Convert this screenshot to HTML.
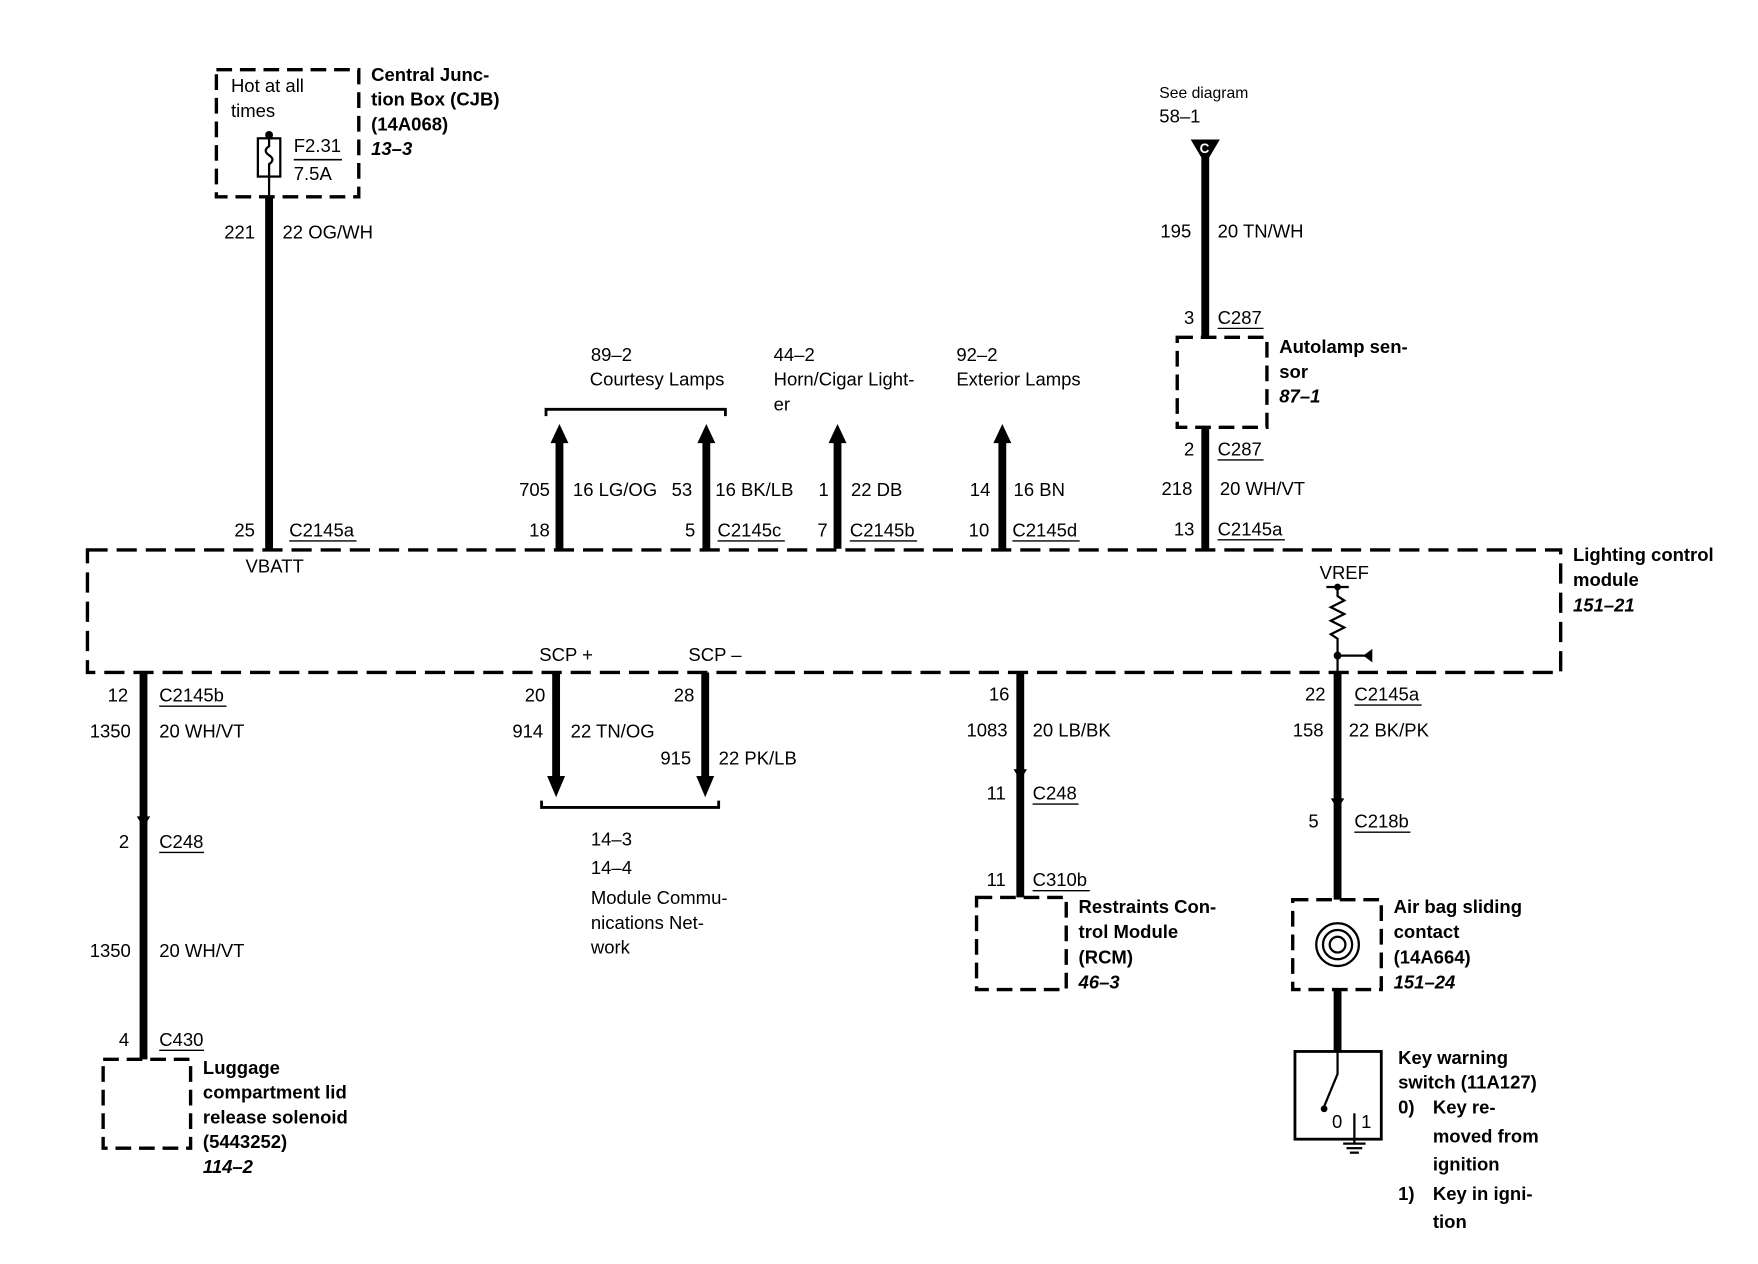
<!DOCTYPE html>
<html><head><meta charset="utf-8"><style>
html,body{margin:0;padding:0;background:#fff;}
svg{display:block}
text{font-family:"Liberation Sans",Arial,sans-serif;font-size:16.5px;fill:#000}
.b{font-weight:bold}
.i{font-weight:bold;font-style:italic}
.s{font-size:14px}
</style></head><body>
<svg width="1758" height="1264" viewBox="0 0 1568 1124" preserveAspectRatio="none" xmlns="http://www.w3.org/2000/svg">
<g fill="none" stroke="#000">
<rect x="193" y="62" width="127" height="113" stroke-width="3" stroke-dasharray="14,7"/>
<rect x="78" y="489" width="1314" height="109" stroke-width="3" stroke-dasharray="18,8"/>
<rect x="1050" y="300" width="80" height="80" stroke-width="3" stroke-dasharray="14,7"/>
<rect x="92" y="942" width="78" height="79" stroke-width="3" stroke-dasharray="14,7"/>
<rect x="871" y="798" width="80" height="82" stroke-width="3" stroke-dasharray="14,7"/>
<rect x="1153" y="800" width="79" height="80" stroke-width="3" stroke-dasharray="14,7"/>
<rect x="1155" y="935" width="77" height="78" stroke-width="2.5"/>
<rect x="230" y="123" width="20" height="34" stroke-width="2"/>
<path d="M240 120 V130 q-6 4 0 8 q6 4 0 8 V175" stroke-width="2"/>
<line x1="262" y1="142" x2="305" y2="142" stroke-width="1.5"/>
<g stroke-width="7">
<line x1="240" y1="175" x2="240" y2="488"/>
<line x1="499" y1="392" x2="499" y2="488"/>
<line x1="630" y1="392" x2="630" y2="488"/>
<line x1="747" y1="392" x2="747" y2="488"/>
<line x1="894" y1="392" x2="894" y2="488"/>
<line x1="1075" y1="140" x2="1075" y2="300"/>
<line x1="1075" y1="380" x2="1075" y2="488"/>
<line x1="128" y1="598" x2="128" y2="942"/>
<line x1="496" y1="598" x2="496" y2="692"/>
<line x1="629" y1="598" x2="629" y2="692"/>
<line x1="910" y1="598" x2="910" y2="798"/>
<line x1="1193" y1="598" x2="1193" y2="800"/>
<line x1="1193" y1="880" x2="1193" y2="935"/>
</g>
<path d="M487 370 V364 H647 V370" stroke-width="2.5"/>
<path d="M483 712 V718 H641 V712" stroke-width="2.5"/>
<path d="M1193 522 V530 l6 4 l-12 6 l12 6 l-12 6 l12 6 l-12 6 l6 4 V598" stroke-width="2"/>
<line x1="1183" y1="522" x2="1203" y2="522" stroke-width="2"/>
<line x1="1193" y1="583" x2="1218" y2="583" stroke-width="2"/>
<circle cx="1193" cy="840" r="19" stroke-width="2"/>
<circle cx="1193" cy="840" r="13" stroke-width="2"/>
<circle cx="1193" cy="840" r="7" stroke-width="2"/>
<path d="M1193 935 V955 L1181 984" stroke-width="2"/>
<line x1="1208" y1="990" x2="1208" y2="1017" stroke-width="2"/>
<line x1="1198" y1="1017" x2="1218" y2="1017" stroke-width="2"/>
<line x1="1201" y1="1021" x2="1215" y2="1021" stroke-width="2"/>
<line x1="1204" y1="1025" x2="1212" y2="1025" stroke-width="2"/>
<g stroke-width="1.2">
<line x1="258" y1="481" x2="318" y2="481"/>
<line x1="640" y1="481" x2="700" y2="481"/>
<line x1="758" y1="481" x2="818" y2="481"/>
<line x1="903" y1="481" x2="963" y2="481"/>
<line x1="1086" y1="292" x2="1127" y2="292"/>
<line x1="1086" y1="409" x2="1127" y2="409"/>
<line x1="1086" y1="480" x2="1146" y2="480"/>
<line x1="142" y1="628" x2="202" y2="628"/>
<line x1="142" y1="758" x2="182" y2="758"/>
<line x1="142" y1="934" x2="182" y2="934"/>
<line x1="921" y1="715" x2="962" y2="715"/>
<line x1="921" y1="792" x2="972" y2="792"/>
<line x1="1208" y1="627" x2="1268" y2="627"/>
<line x1="1208" y1="740" x2="1258" y2="740"/>
</g>
</g>
<g fill="#000">
<polygon points="499,377 491,394 507,394"/>
<polygon points="630,377 622,394 638,394"/>
<polygon points="747,377 739,394 755,394"/>
<polygon points="894,377 886,394 902,394"/>
<polygon points="496,709 488,690 504,690"/>
<polygon points="629,709 621,690 637,690"/>
<polygon points="1062,124 1088,124 1075,146"/>
<circle cx="240" cy="120" r="3.5"/>
<circle cx="1193" cy="522" r="3"/>
<circle cx="1193" cy="583" r="3.5"/>
<polygon points="1224,577 1224,589 1216,583"/>
<circle cx="1181" cy="986" r="3"/>
<polygon points="122,726 134,726 128,736"/>
<polygon points="904,684 916,684 910,694"/>
<polygon points="1187,710 1199,710 1193,720"/>
</g>
<text x="1070" y="136" style="fill:#fff;font-size:12px" class="b">C</text>

<text x="206" y="82">Hot at all</text><text x="206" y="104">times</text>
<text x="262" y="135">F2.31</text><text x="262" y="160">7.5A</text>
<text class="b" x="331" y="72">Central Junc-</text><text class="b" x="331" y="94">tion Box (CJB)</text>
<text class="b" x="331" y="116">(14A068)</text><text class="i" x="331" y="138">13–3</text>
<text x="200" y="212">221</text><text x="252" y="212">22 OG/WH</text>
<text x="209" y="477">25</text><text x="258" y="477">C2145a</text><text x="219" y="509">VBATT</text>

<text x="527" y="321">89–2</text><text x="526" y="343">Courtesy Lamps</text>
<text x="463" y="441">705</text><text x="511" y="441">16 LG/OG</text>
<text x="599" y="441">53</text><text x="638" y="441">16 BK/LB</text>
<text x="472" y="477">18</text><text x="611" y="477">5</text><text x="640" y="477">C2145c</text>
<text x="690" y="321">44–2</text><text x="690" y="343">Horn/Cigar Light-</text><text x="690" y="365">er</text>
<text x="730" y="441">1</text><text x="759" y="441">22 DB</text>
<text x="729" y="477">7</text><text x="758" y="477">C2145b</text>
<text x="853" y="321">92–2</text><text x="853" y="343">Exterior Lamps</text>
<text x="865" y="441">14</text><text x="904" y="441">16 BN</text>
<text x="864" y="477">10</text><text x="903" y="477">C2145d</text>

<text class="s" x="1034" y="87">See diagram</text><text x="1034" y="109">58–1</text>
<text x="1035" y="211">195</text><text x="1086" y="211">20 TN/WH</text>
<text x="1056" y="288">3</text><text x="1086" y="288">C287</text>
<text class="b" x="1141" y="314">Autolamp sen-</text><text class="b" x="1141" y="336">sor</text><text class="i" x="1141" y="358">87–1</text>
<text x="1056" y="405">2</text><text x="1086" y="405">C287</text>
<text x="1036" y="440">218</text><text x="1088" y="440">20 WH/VT</text>
<text x="1047" y="476">13</text><text x="1086" y="476">C2145a</text>

<text class="b" x="1403" y="499">Lighting control</text><text class="b" x="1403" y="521">module</text><text class="i" x="1403" y="544">151–21</text>
<text x="1177" y="515">VREF</text>
<text x="481" y="588">SCP +</text><text x="614" y="588">SCP –</text>

<text x="96" y="624">12</text><text x="142" y="624">C2145b</text>
<text x="80" y="656">1350</text><text x="142" y="656">20 WH/VT</text>
<text x="106" y="754">2</text><text x="142" y="754">C248</text>
<text x="80" y="851">1350</text><text x="142" y="851">20 WH/VT</text>
<text x="106" y="930">4</text><text x="142" y="930">C430</text>
<text class="b" x="181" y="955">Luggage</text><text class="b" x="181" y="977">compartment lid</text>
<text class="b" x="181" y="999">release solenoid</text><text class="b" x="181" y="1021">(5443252)</text>
<text class="i" x="181" y="1043">114–2</text>

<text x="468" y="624">20</text><text x="601" y="624">28</text>
<text x="457" y="656">914</text><text x="509" y="656">22 TN/OG</text>
<text x="589" y="680">915</text><text x="641" y="680">22 PK/LB</text>
<text x="527" y="752">14–3</text><text x="527" y="777">14–4</text>
<text x="527" y="804">Module Commu-</text><text x="527" y="826">nications Net-</text><text x="527" y="848">work</text>

<text x="882" y="623">16</text><text x="862" y="655">1083</text><text x="921" y="655">20 LB/BK</text>
<text x="880" y="711">11</text><text x="921" y="711">C248</text>
<text x="880" y="788">11</text><text x="921" y="788">C310b</text>
<text class="b" x="962" y="812">Restraints Con-</text><text class="b" x="962" y="834">trol Module</text>
<text class="b" x="962" y="857">(RCM)</text><text class="i" x="962" y="879">46–3</text>

<text x="1164" y="623">22</text><text x="1208" y="623">C2145a</text>
<text x="1153" y="655">158</text><text x="1203" y="655">22 BK/PK</text>
<text x="1167" y="736">5</text><text x="1208" y="736">C218b</text>
<text class="b" x="1243" y="812">Air bag sliding</text><text class="b" x="1243" y="834">contact</text>
<text class="b" x="1243" y="857">(14A664)</text><text class="i" x="1243" y="879">151–24</text>
<text x="1188" y="1003">0</text><text x="1214" y="1003">1</text>
<text class="b" x="1247" y="946">Key warning</text><text class="b" x="1247" y="968">switch (11A127)</text>
<text class="b" x="1247" y="990">0)</text><text class="b" x="1278" y="990">Key re-</text>
<text class="b" x="1278" y="1016">moved from</text><text class="b" x="1278" y="1041">ignition</text>
<text class="b" x="1247" y="1067">1)</text><text class="b" x="1278" y="1067">Key in igni-</text>
<text class="b" x="1278" y="1092">tion</text>
</svg>
</body></html>
